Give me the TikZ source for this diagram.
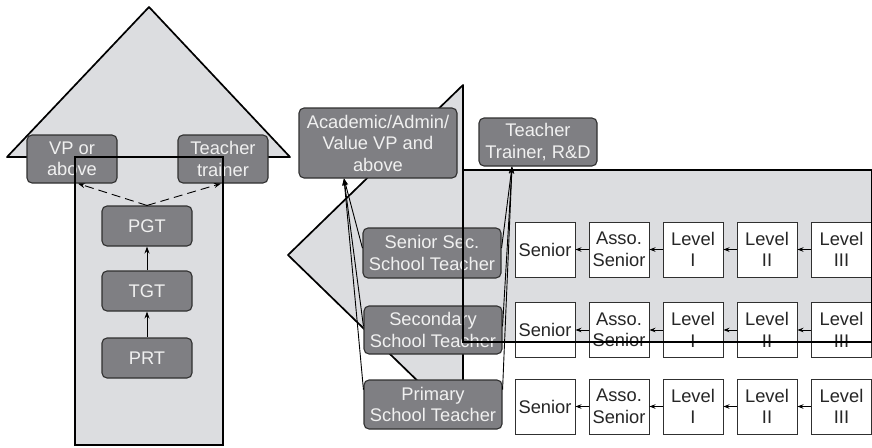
\documentclass[tikz,border=0pt]{standalone}
\usepackage{fontspec}
\setmainfont{Liberation Sans}
\usetikzlibrary{arrows.meta}

\definecolor{panel}{HTML}{DCDDE0}
\definecolor{boxgray}{HTML}{7F7F83}
\definecolor{edge}{HTML}{303030}

\tikzset{
  post/.style={draw=edge, fill=boxgray, rounded corners=5pt, line width=1.1pt,
    text=white!94!black, align=center, inner sep=0pt},
  grade/.style={draw=edge, fill=white, line width=0.9pt, text=black!85, align=center,
    minimum width=60pt, minimum height=55pt, inner sep=0pt},
  rim/.style={draw=black, line width=1.1pt},
  head/.style={draw=black, line width=1.7pt, line join=round},
  link/.style={-{Stealth[length=7pt,width=5pt]}, line width=0.9pt},
  stagelink/.style={-{Stealth[length=6pt,width=4.5pt]}, line width=0.9pt},
}

\begin{document}
\begin{tikzpicture}[x=1pt, y=-1pt, font=\fontsize{18.3}{21.5}\selectfont]
\useasboundingbox (0,0) rectangle (872,447);

% upward arrow, school cadre
\fill[panel] (7,157) -- (149,7) -- (290,157) -- cycle;
\draw[head] (7,157) -- (149,7) -- (290,157) -- cycle;
\fill[panel] (75,157) rectangle (223,445);

\node[post, minimum width=90pt, minimum height=48pt] (vp) at (72,159) {VP or\\above};
\node[post, minimum width=90pt, minimum height=48pt] (tt) at (223,159) {Teacher\\trainer};
\node[post, minimum width=90pt, minimum height=40pt] (pgt) at (147,226) {PGT};
\node[post, minimum width=90pt, minimum height=40pt] (tgt) at (147,291) {TGT};
\node[post, minimum width=90pt, minimum height=40pt] (prt) at (147,358) {PRT};

\draw[rim] (75,157) rectangle (223,445);

\draw[link, dashed, dash pattern=on 9pt off 5pt] (pgt.north) -- ([xshift=6pt]vp.south);
\draw[link, dashed, dash pattern=on 9pt off 5pt] (pgt.north) -- ([xshift=-2pt]tt.south);
\draw[link] (tgt) -- (pgt);
\draw[link] (prt) -- (tgt);

% leftward arrow, teacher stages
\fill[panel] (463,85) -- (288,255) -- (463,425) -- cycle;
\draw[head] (463,85) -- (288,255) -- (463,425) -- cycle;
\fill[panel] (463,170) rectangle (872,342);

\node[post, minimum width=158pt, minimum height=70pt] (acad) at (378,143) {Academic/Admin/\\Value VP and\\above};
\node[post, minimum width=118pt, minimum height=48pt] (rnd) at (538,142) {Teacher\\Trainer, R\&D};
\node[post, minimum width=138pt, minimum height=50pt] (sst) at (432,253) {Senior Sec.\\School Teacher};
\node[post, minimum width=138pt, minimum height=48pt] (sct) at (433,330) {Secondary\\School Teacher};
\node[post, minimum width=138pt, minimum height=49pt] (pst) at (433,404.5) {Primary\\School Teacher};

\foreach \r/\y in {a/249.5, b/330, c/406.5} {
  \foreach \c/\x/\t in {1/545/{Senior}, 2/619/{Asso.\\Senior}, 3/693/{Level\\I},
                        4/767/{Level\\II}, 5/841.5/{Level\\III}}
    \node[grade] (\r\c) at (\x,\y) {\t};
  \foreach \c [count=\p] in {2,...,5}
    \draw[stagelink] (\r\c) -- (\r\p);
}

\draw[rim] (463,170) rectangle (871.5,342);

\draw[link] (sst.176) -- ([xshift=-34pt]acad.south);
\draw[link] (sct.177) -- ([xshift=-34pt]acad.south);
\draw[link] (pst.168) -- ([xshift=-34pt]acad.south);
\draw[link] (sst.4) -- ([xshift=-26pt]rnd.south);
\draw[link] (sct.3) -- ([xshift=-26pt]rnd.south);
\draw[link] (pst.12) -- ([xshift=-26pt]rnd.south);
\end{tikzpicture}
\end{document}
